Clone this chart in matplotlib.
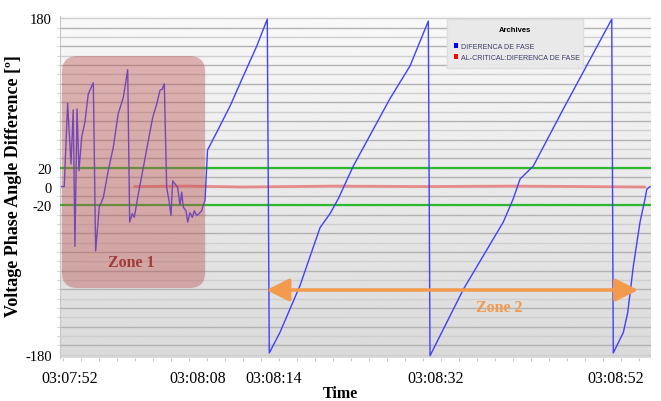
import numpy as np
import matplotlib
matplotlib.use("Agg")
import matplotlib.pyplot as plt
from matplotlib.patches import FancyBboxPatch, Patch

# ---- data (seconds after 03:07:52, degrees) ----
t_phase = [-0.14, 0.14, 0.52, 0.89, 1.14, 1.33, 1.56, 1.78, 2.08, 2.44,
           2.81, 3.37, 3.63, 4.03, 4.48, 5.03, 5.59, 6.14, 6.70, 7.19,
           7.41, 7.70, 7.92, 8.37, 8.92, 9.48, 9.97, 10.41, 10.78, 11.03,
           11.26, 11.52, 11.78, 12.00, 12.19, 12.44, 12.74, 13.00, 13.19, 13.37,
           13.67, 13.86, 14.11, 14.37, 14.59, 14.86, 15.11, 15.41, 15.59, 15.78,
           16.06, 17.08, 18.56, 20.03, 21.52, 22.70, 22.92, 24.11, 26.33, 28.56,
           29.67, 30.59, 32.26, 36.33, 38.56, 40.59, 40.78, 44.48, 48.92, 50.03,
           50.78, 52.26, 55.59, 58.56, 60.97, 61.14, 62.26, 62.74, 63.37, 64.11,
           64.67, 64.86, 65.22]
v_phase = [0, 0, 89, 24, 82, -64, 83, 17, 53, 69,
           99, 111, -69, -22, -12, 17, 42, 78, 95, 125,
           -38, -29, -33, -8, 20, 49, 74, 88, 103, 104,
           110, -1, -15, -31, 6, 3, -1, -20, -6, -22,
           -26, -38, -28, -33, -26, -31, -29, -26, -20, -15,
           39, 58, 86, 118, 150, 179, -178, -156, -106, -44,
           -29, -13, 22, 94, 129, 177, -181, -110, -38, -13,
           8, 22, 83, 136, 179, -178, -156, -135, -85, -38,
           -13, -3, 0]
t_crit = [8.0, 14.0, 20.0, 30.0, 40.0, 50.0, 58.0, 64.6]
v_crit = [0.0, 0.5, -0.5, 0.5, 0.0, 0.5, 0.0, -0.5]
limits = [20, -20]
ytick_vals = [180, 20, 0, -20, -180]
xtick_pos = [0.78, 15.0, 23.4, 41.4, 61.4]
xtick_labels = ["03:07:52", "03:08:08", "03:08:14", "03:08:32", "03:08:52"]
series_names = ["DIFERENCA DE FASE", "AL-CRITICAL:DIFERENCA DE FASE"]

legend_font, legend_size = "Liberation Sans", 5.1

fig = plt.figure(figsize=(6.61, 4.02), dpi=100)
ax = fig.add_axes([60/661, 1 - 359/402, 591/661, 342/402])
ax.set_xlim(-0.33, 65.33)
ax.set_ylim(-183.4, 182.4)

# gradient background
grad = np.linspace(0.975, 0.855, 256).reshape(-1, 1)
ax.imshow(grad, cmap="gray", vmin=0, vmax=1, aspect="auto",
          extent=[0, 1, 0, 1], transform=ax.transAxes, zorder=0)

# horizontal grid every 10 degrees
for i, g in enumerate(np.arange(-180, 181, 10)):
    ax.axhline(g, color="#b2b2b2" if i % 2 else "#cfcfcf", lw=1.0, zorder=1)

serif = "Liberation Serif"

for lv in limits:
    ax.axhline(lv, color="#2eb82e", lw=1.6, zorder=3)

ax.plot(t_crit, v_crit, color="#e87b7b", lw=2.0, alpha=0.85, zorder=3)
ax.plot(t_phase, v_phase, color="#4040ff", lw=1.0, zorder=4)

# Zone 1 rounded box
box = FancyBboxPatch((-0.11, -108.6), 15.91, 248.2,
                     boxstyle="round,pad=0,rounding_size=1.75",
                     mutation_aspect=9.6,
                     facecolor=(0.74, 0.32, 0.32), alpha=0.42, edgecolor="none",
                     zorder=5)
ax.add_patch(box)
ax.text(7.55, -80.4, "Zone 1", color="#a03c3c", fontsize=11.5, fontweight="bold",
        family=serif, ha="center", va="center", zorder=6)

# Zone 2 arrow
ax.annotate("", xy=(63.9, -110.7), xytext=(22.6, -110.7),
            arrowprops=dict(arrowstyle="<|-|>,head_length=1.0,head_width=0.5",
                            mutation_scale=14, color="#f39a4c", lw=2.5,
                            shrinkA=0, shrinkB=0), zorder=6)
ax.text(48.5, -128.6, "Zone 2", color="#f39a4c", fontsize=11.5, fontweight="bold",
        family=serif, ha="center", va="center", zorder=6)

# legend
handles = [Patch(facecolor="#0000ff", edgecolor="none"),
           Patch(facecolor="#ff0000", edgecolor="none")]
leg = ax.legend(handles, series_names, title="Archives",
                bbox_to_anchor=(0.655, 0.857, 0.23, 0.134), loc="upper left",
                mode="expand", prop={"family": legend_font, "size": legend_size},
                title_fontproperties={"family": legend_font, "weight": "bold",
                                      "size": legend_size + 0.4},
                handlelength=0.6, handleheight=0.6, handletextpad=0.3,
                labelspacing=0.55, borderpad=1.0, borderaxespad=0,
                fancybox=False, framealpha=1, labelcolor="#3a3a6a")
leg._legend_box.sep = 7
leg.get_frame().set_facecolor("#e9e9e9")
leg.get_frame().set_edgecolor("#dddddd")
leg.set_zorder(7)

for s in ["top", "right", "bottom"]:
    ax.spines[s].set_visible(False)
ax.spines["left"].set_color("#c8c8c8")

ax.set_yticks(ytick_vals)
ax.set_yticklabels([str(v) for v in ytick_vals], family=serif, fontsize=10.5)
ax.set_yticks(np.arange(-180, 181, 10), minor=True)
ax.tick_params(axis="y", which="major", length=0, pad=6)
ax.tick_params(axis="y", which="minor", length=2, color="#c8c8c8")

ax.set_xticks(xtick_pos)
ax.set_xticklabels(xtick_labels, family=serif, fontsize=11.5)
ax.set_xticks(np.arange(0, 65, 2), minor=True)
ax.tick_params(axis="x", which="major", length=0, pad=9)
ax.tick_params(axis="x", which="minor", length=2.5, color="#b8b8b8", direction="out")

ax.set_ylabel("Voltage Phase Angle Difference [º]", family=serif, fontsize=13,
              fontweight="bold")
ax.yaxis.set_label_coords(-0.065, 0.505)
ax.set_xlabel("Time", family=serif, fontsize=11.5, fontweight="bold")
ax.xaxis.set_label_coords(0.474, -0.08)

fig.savefig("out.png", dpi=100)
